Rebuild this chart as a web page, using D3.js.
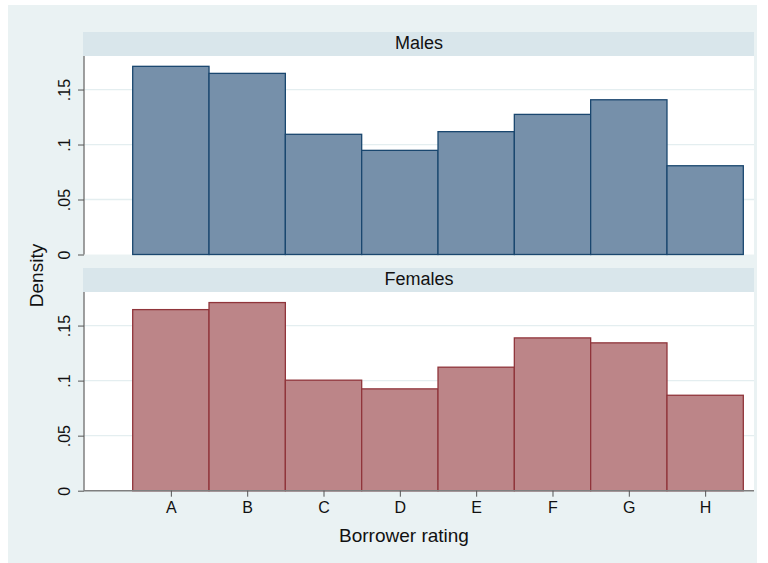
<!DOCTYPE html>
<html>
<head>
<meta charset="utf-8">
<script src="https://cdn.jsdelivr.net/npm/d3@7"></script>
<style>
  html, body { margin: 0; padding: 0; background: #ffffff; }
  svg { display: block; font-family: "Liberation Sans", Arial, Helvetica, sans-serif; }
</style>
</head>
<body>
<svg id="chart" width="768" height="563"></svg>
<script>
// ---- data ----
const categories = ["A", "B", "C", "D", "E", "F", "G", "H"];
const malesDensity = [0.1711, 0.1647, 0.1093, 0.0947, 0.1117, 0.1274, 0.1407, 0.0807];
const femalesDensity = [0.1645, 0.1709, 0.1004, 0.0925, 0.1122, 0.1388, 0.1343, 0.0867];
const panelNames = ["Males", "Females"];
const yTickValues = [0, 0.05, 0.1, 0.15];
const yTickLabels = ["0", ".05", ".1", ".15"];
const xTitle = "Borrower rating";
const yTitle = "Density";

// ---- layout ----
const svg = d3.select("#chart");
const plotLeft = 84, plotRight = 754;
const panels = [
  { name: panelNames[0], values: malesDensity, stripTop: 32, plotTop: 56, plotBottom: 254.5,
    fill: "#7690AA", stroke: "#1A476F", showXAxis: false },
  { name: panelNames[1], values: femalesDensity, stripTop: 268, plotTop: 292, plotBottom: 490.7,
    fill: "#BC8588", stroke: "#90353B", showXAxis: true }
];

// outer background
svg.append("rect").attr("x", 8).attr("y", 5).attr("width", 749).attr("height", 558)
  .attr("fill", "#EAF2F3");

// x scale: bars span rating index +/- 0.5
const x = d3.scaleLinear().domain([-0.138, 8.64]).range([plotLeft, plotRight]);

panels.forEach(p => {
  const y = d3.scaleLinear().domain([0, 0.1805]).range([p.plotBottom, p.plotTop]);
  const g = svg.append("g");

  // strip
  g.append("rect").attr("x", plotLeft - 1).attr("y", p.stripTop)
    .attr("width", plotRight - plotLeft + 1).attr("height", p.plotTop - p.stripTop)
    .attr("fill", "#D9E6EB");
  g.append("text").attr("x", (plotLeft + plotRight) / 2).attr("y", p.stripTop + 17)
    .attr("text-anchor", "middle").attr("font-size", 18).attr("fill", "#111")
    .text(p.name);

  // plot area
  g.append("rect").attr("x", plotLeft).attr("y", p.plotTop)
    .attr("width", plotRight - plotLeft).attr("height", p.plotBottom - p.plotTop)
    .attr("fill", "#ffffff");

  // gridlines
  g.selectAll("line.grid").data(yTickValues.filter(v => v > 0)).enter().append("line")
    .attr("x1", plotLeft).attr("x2", plotRight)
    .attr("y1", d => y(d)).attr("y2", d => y(d))
    .attr("stroke", "#E4EEF0").attr("stroke-width", 1.3);

  // bars
  g.selectAll("rect.bar").data(p.values).enter().append("rect")
    .attr("x", (d, i) => x(i + 0.5))
    .attr("width", (d, i) => x(i + 1.5) - x(i + 0.5))
    .attr("y", d => y(d))
    .attr("height", d => y(0) - y(d))
    .attr("fill", p.fill).attr("stroke", p.stroke).attr("stroke-width", 1.3);

  // y axis
  const yAxis = d3.axisLeft(y).tickValues(yTickValues)
    .tickFormat((d, i) => yTickLabels[i]).tickSize(6).tickPadding(4);
  const ya = g.append("g").attr("transform", `translate(${plotLeft},0)`).call(yAxis);
  ya.select(".domain").attr("d", `M0,${p.plotTop}V${p.plotBottom}`)
    .attr("stroke", "#7F7F7F").attr("stroke-width", 1.5);
  ya.selectAll(".tick line").attr("stroke", "#555").attr("stroke-width", 1);
  ya.selectAll(".tick text")
    .attr("transform", "rotate(-90)")
    .attr("x", 0).attr("y", -14).attr("dy", 0)
    .attr("text-anchor", "middle")
    .attr("font-size", 16).attr("fill", "#111")
    .attr("font-family", "'Liberation Sans', Arial, sans-serif");

  // x axis
  if (p.showXAxis) {
    const xAxis = d3.axisBottom(x).tickValues(d3.range(1, categories.length + 1))
      .tickFormat(d => categories[d - 1]).tickSize(6).tickPadding(5);
    const xa = g.append("g").attr("transform", `translate(0,${p.plotBottom})`).call(xAxis);
    xa.select(".domain").attr("d", `M${plotLeft},0H${plotRight}`)
      .attr("stroke", "#7F7F7F").attr("stroke-width", 1.5);
    xa.selectAll(".tick line").attr("stroke", "#555").attr("stroke-width", 1);
    xa.selectAll(".tick text").attr("font-size", 16).attr("fill", "#111")
      .attr("font-family", "'Liberation Sans', Arial, sans-serif")
      .attr("dy", 0).attr("y", 22);
  }
});

// axis titles
svg.append("text").attr("x", 404).attr("y", 542).attr("text-anchor", "middle")
  .attr("font-size", 19).attr("fill", "#111").text(xTitle);
svg.append("text").attr("transform", "translate(43,275.5) rotate(-90)")
  .attr("text-anchor", "middle").attr("font-size", 19).attr("fill", "#111").text(yTitle);
</script>
</body>
</html>
